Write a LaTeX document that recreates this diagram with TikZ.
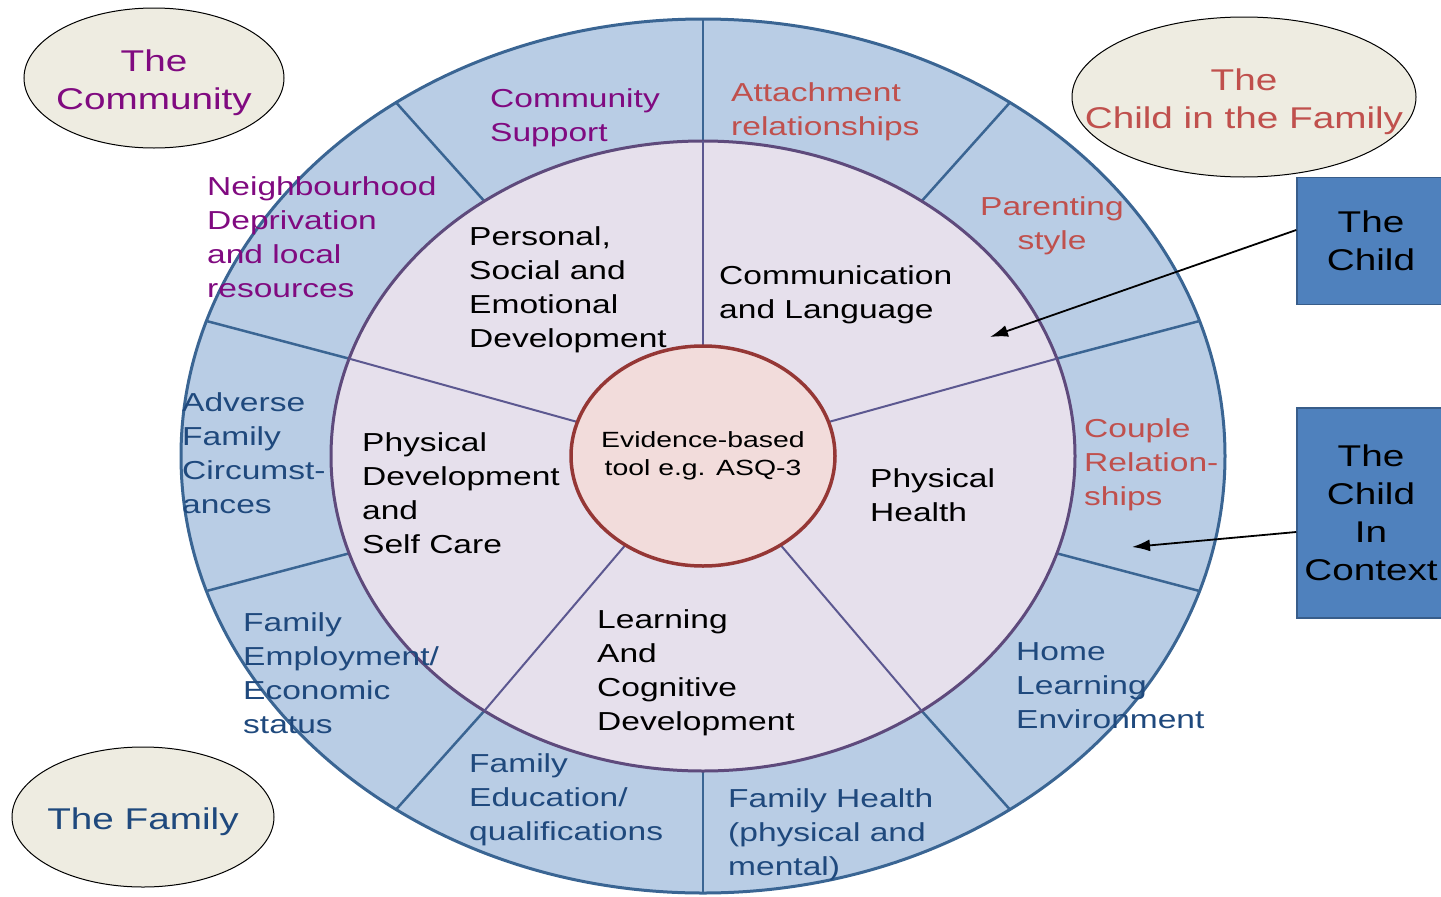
\documentclass[tikz,border=0pt]{standalone}
\usepackage{fontspec}
\setmainfont{Liberation Sans}[FakeStretch=1.29]
\usetikzlibrary{arrows.meta, positioning}
\definecolor{ringfill}{HTML}{B9CDE5}
\definecolor{ringline}{HTML}{3A6593}
\definecolor{corefill}{HTML}{E6E0EC}
\definecolor{coreline}{HTML}{5E4A7C}
\definecolor{spokeline}{HTML}{5C5890}
\definecolor{toolfill}{HTML}{F2DCDB}
\definecolor{toolline}{HTML}{953735}
\definecolor{txtpurple}{HTML}{800A80}
\definecolor{txtred}{HTML}{C0504D}
\definecolor{txtblue}{HTML}{1F497D}
\definecolor{tagfill}{HTML}{EEECE1}
\definecolor{boxfill}{HTML}{4F81BD}
\definecolor{boxline}{HTML}{385D8A}

\begin{document}
\begin{tikzpicture}
  [x=1pt, y=-1pt,
   txt/.style={align=left, anchor=north west, inner sep=0pt,
     font=\fontsize{26}{34}\selectfont},
   tag/.style={draw=black, line width=1pt, fill=tagfill},
   tagtxt/.style={inner sep=0pt, align=center, font=\fontsize{30}{38}\selectfont},
   box/.style={rectangle, draw=boxline, line width=1.5pt, fill=boxfill,
     align=center, font=\fontsize{30}{38}\selectfont, minimum width=148pt}]
  \useasboundingbox (0,0) rectangle (1441,897);
  \coordinate (c) at (703,456);

  % outer ring
  \draw[ringline, line width=3pt, fill=ringfill] (c) ellipse [x radius=522pt, y radius=437pt];
  \begin{scope}[shift={(c)}]
    \foreach \a in {18,54,...,342}
      \draw[ringline, line width=2.5pt] (\a:372pt and 315pt) -- (\a:521pt and 436pt);
  \end{scope}

  % inner ring
  \draw[coreline, line width=3pt, fill=corefill] (c) ellipse [x radius=372pt, y radius=315pt];
  \begin{scope}[shift={(c)}]
    \foreach \a in {18,90,...,306}
      \draw[spokeline, line width=2pt] (\a:132pt and 110pt) -- (\a:372pt and 315pt);
  \end{scope}
  \draw[toolline, line width=3.5pt, fill=toolfill] (c) ellipse [x radius=132pt, y radius=110pt];
  \node (tool) at (c) [inner sep=0pt, align=center, font=\fontsize{22}{28}\selectfont]
    {Evidence-based\\tool e.g. ASQ-3};

  % outer ring texts
  \node (comsup) at (490,88) [txt, text=txtpurple] {Community\\Support};
  \node (attach) at (731,82) [txt, text=txtred] {Attachment\\relationships};
  \node (parent) at (1052,196) [txt, text=txtred, align=center, anchor=north] {Parenting\\style};
  \node (couple) at (1084,418) [txt, text=txtred] {Couple\\Relation-\\ships};
  \node (home) at (1016,642) [txt, text=txtblue] {Home\\Learning\\Environment};
  \node (fhealth) at (728,788) [txt, text=txtblue] {Family Health\\(physical and\\mental)};
  \node (fedu) at (469,753) [txt, text=txtblue] {Family\\Education/\\qualifications};
  \node (femploy) at (243,612) [txt, text=txtblue] {Family\\Employment/\\Economic\\status};
  \node (adverse) at (182,392) [txt, text=txtblue] {Adverse\\Family\\Circumst-\\ances};
  \node (neigh) at (207,176) [txt, text=txtpurple] {Neighbourhood\\Deprivation\\and local\\resources};

  % inner ring texts
  \node (pses) at (469,226) [txt] {Personal,\\Social and\\Emotional\\Development};
  \node (comlang) at (719,265) [txt] {Communication\\and Language};
  \node (physhealth) at (870,468) [txt] {Physical\\Health};
  \node (learn) at (597,609) [txt] {Learning\\And\\Cognitive\\Development};
  \node (physdev) at (362,432) [txt] {Physical\\Development\\and\\Self Care};

  % labels round the wheel
  \draw[tag] (154,78) ellipse [x radius=130pt, y radius=70pt];
  \node (community) at (154,83) [tagtxt, text=txtpurple] {The\\Community};
  \draw[tag] (1244,97) ellipse [x radius=172pt, y radius=80pt];
  \node (childfam) at (1244,102) [tagtxt, text=txtred] {The\\Child in the Family};
  \draw[tag] (143,817) ellipse [x radius=131pt, y radius=70pt];
  \node (family) at (143,822) [tagtxt, text=txtblue] {The Family};

  \node (child) at (1371,241) [box, minimum height=127pt] {The\\Child};
  \node (context) at (1371,513) [box, minimum height=210pt] {The\\Child\\In\\Context};

  \coordinate (childtip) at (990,337);
  \coordinate (contexttip) at (1132,547);
  \draw [-{Latex[length=18pt, width=12pt]}, line width=1.8pt] ([yshift=11pt]child.west) -- (childtip);
  \draw [-{Latex[length=18pt, width=12pt]}, line width=1.8pt] ([yshift=-19pt]context.west) -- (contexttip);
\end{tikzpicture}
\end{document}
